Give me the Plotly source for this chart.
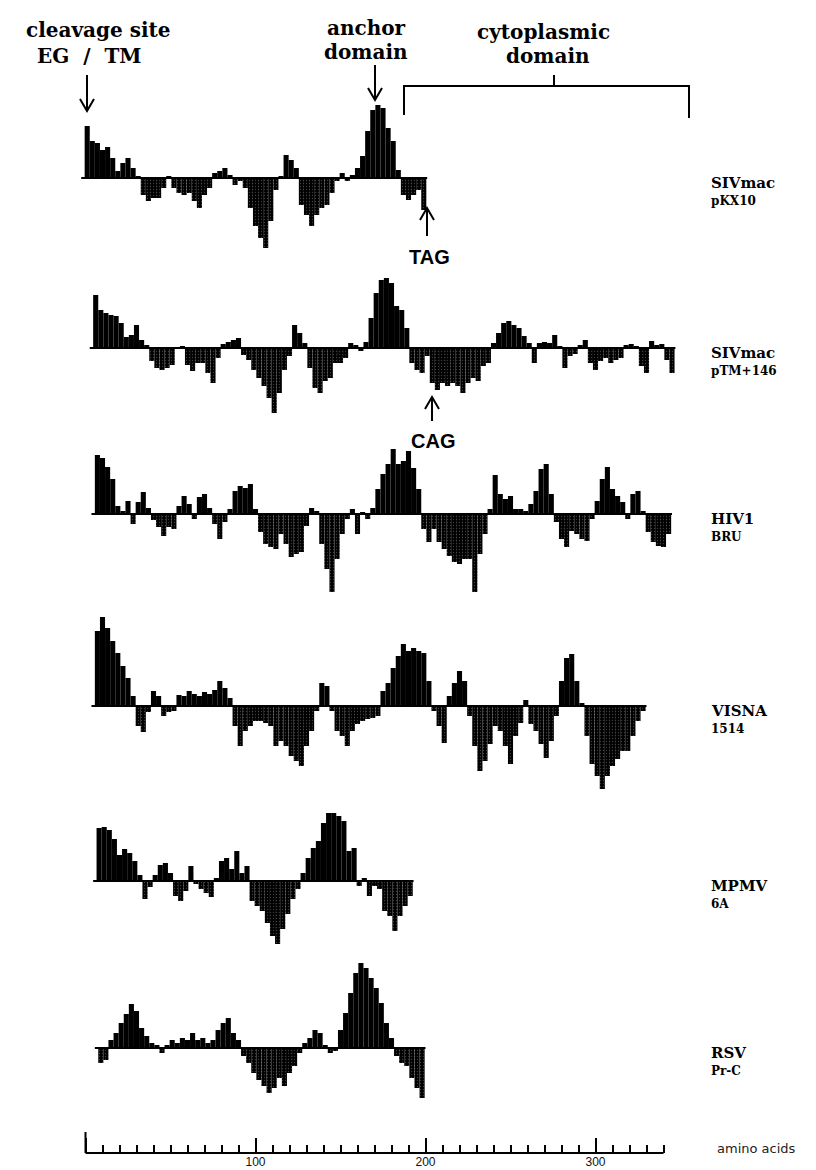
import plotly.graph_objects as go

W, H = 816, 1170
STEP = 3  # amino acids per plotted value

# ---------------- data (hydropathy, arbitrary units) ----------------
names = ["SIVmac", "SIVmac", "HIV1", "VISNA", "MPMV", "RSV"]
subnames = ["pKX10", "pTM+146", "BRU", "1514", "6A", "Pr-C"]
starts = [1, 6, 7, 7, 8, 9]

siv_pkx10 = [5.2, 3.7, 3.5, 2.8, 3.1, 2.0, 0.7, 1.5, 2.0, 1.0, 0.2, -1.7, -2.3, -2.0, -2.0, -1.0, 0.2,
             -1.0, -1.5, -1.7, -1.5, -2.3, -3.0, -1.7, -1.0, 0.5, 0.7, 1.0, 0.3, -0.7, -0.3, -1.0, -3.0,
             -4.8, -6.0, -7.0, -4.3, -1.2, 0.2, 2.3, 1.8, 1.0, -2.7, -3.7, -4.8, -3.7, -3.0, -2.7, -1.5,
             -0.3, 0.5, -0.3, 0.3, 1.0, 2.2, 4.7, 6.8, 7.3, 7.0, 5.0, 3.7, 0.8, -1.7, -2.2, -1.7, -1.2, -3.2]

siv_ptm146 = [5.3, 3.8, 3.5, 3.3, 3.2, 2.5, 1.1, 1.3, 2.3, 0.8, 0.3, -1.3, -2.0, -2.2, -2.0, -1.7, 0.1,
              0.2, -1.7, -2.3, -1.5, -1.5, -2.5, -3.5, -1.0, 0.4, 0.6, 0.8, 1.0, -0.7, -1.2, -2.2, -3.0,
              -3.8, -5.0, -6.5, -4.5, -2.2, -0.8, 2.3, 1.5, 0.5, -2.0, -4.0, -4.5, -3.3, -3.0, -1.5, -1.5,
              -1.0, 0.5, 0.3, -0.3, 0.6, 3.0, 5.5, 6.8, 7.0, 6.5, 4.2, 3.8, 2.0, -1.5, -2.2, -2.5, -0.8,
              -3.5, -4.2, -3.5, -3.8, -3.5, -3.8, -4.5, -3.5, -3.0, -3.3, -1.8, -1.5, 0.5, 1.5, 2.5, 2.7,
              2.3, 2.0, 1.2, 0.5, -1.5, 0.5, 0.6, 0.5, 1.3, 0.2, -2.0, -0.8, -0.6, 0.3, 0.8, -1.5, -2.2,
              -1.3, -1.0, -1.5, -1.2, -1.0, 0.3, 0.4, 0.2, -1.8, -2.5, 0.7, 0.3, 0.4, -1.2, -2.5]

hiv1_bru = [5.9, 5.6, 4.7, 3.5, 0.8, 0.3, 1.3, -1.0, 1.2, 2.2, 0.6, -0.6, -1.3, -2.2, -1.3, -1.5, 0.8,
            1.8, 1.0, -0.5, 1.7, 2.0, 0.6, -1.0, -2.5, -0.8, 0.5, 2.3, 2.8, 2.6, 3.0, 0.5, -1.8, -3.0,
            -3.3, -3.5, -2.0, -3.0, -4.3, -4.0, -3.8, -1.2, 0.6, 0.3, -3.0, -5.5, -7.8, -4.5, -2.0, -0.5,
            0.5, -2.0, 0.2, -0.5, 0.6, 2.5, 4.0, 5.0, 6.5, 5.0, 5.3, 6.3, 4.6, 2.5, -1.5, -2.8, -1.5,
            -2.8, -3.5, -4.2, -4.8, -5.0, -4.5, -4.5, -7.8, -4.0, -2.0, 0.5, 3.9, 2.0, 1.5, 1.8, 0.5,
            0.5, 0.3, 1.0, 2.3, 4.5, 5.0, 2.0, -0.8, -2.5, -3.3, -1.7, -2.0, -2.5, -2.7, -0.5, 1.3, 3.5,
            4.7, 2.5, 1.8, 1.2, -0.5, 2.0, 2.3, 0.3, -1.8, -2.8, -3.2, -3.3, -2.0]

visna_1514 = [7.5, 8.9, 7.8, 6.5, 5.3, 4.0, 2.8, 1.0, -2.0, -2.6, -0.6, 1.5, 1.0, -1.0, -0.6, -0.5, 1.1,
              1.0, 1.5, 1.2, 1.0, 1.4, 1.2, 1.6, 2.5, 1.8, 0.8, -2.0, -4.0, -2.5, -2.0, -1.5, -1.5, -1.7,
              -2.0, -4.0, -3.5, -4.0, -5.0, -5.5, -6.0, -4.0, -2.5, -0.5, 2.3, 2.0, -0.5, -2.5, -3.0, -4.0,
              -2.5, -1.8, -1.5, -1.3, -1.2, -1.0, 1.5, 2.3, 3.8, 5.0, 6.2, 5.5, 5.8, 5.5, 5.3, 2.5, -0.5,
              -2.0, -3.7, 1.0, 2.3, 3.5, 2.5, -1.0, -4.0, -6.5, -5.5, -3.8, -2.0, -2.5, -4.0, -5.8, -3.0,
              -1.7, 0.6, -1.8, -2.5, -3.8, -5.2, -3.5, -1.0, 2.5, 4.8, 5.2, 2.5, 0.3, -3.0, -5.8, -7.0,
              -8.3, -7.0, -6.0, -5.3, -4.5, -4.5, -3.0, -1.5, -0.5]

mpmv_6a = [5.3, 5.4, 5.1, 4.2, 2.6, 3.2, 2.8, 2.0, 0.6, -1.8, -0.6, 0.6, 1.6, 1.8, 0.8, -1.5, -2.0,
           -1.0, 1.5, -0.3, -0.8, -1.2, -1.6, 0.3, 2.0, 2.3, 1.2, 3.0, 0.8, 1.5, -2.0, -2.5, -3.0, -4.2,
           -5.5, -6.3, -4.8, -3.3, -1.8, -0.8, 0.8, 2.3, 3.3, 4.0, 5.8, 6.8, 6.8, 6.5, 6.0, 3.0, 3.3,
           -0.5, 0.3, -1.5, -0.5, -0.8, -3.0, -3.5, -5.0, -3.5, -2.5, -1.5]

rsv_prc = [-1.5, -1.2, 0.8, 1.5, 2.5, 3.4, 4.4, 3.7, 2.0, 1.2, 0.5, 0.3, -0.5, 0.3, 0.8, 0.5, 1.0,
           0.8, 1.5, 0.8, 1.0, 0.5, 0.8, 1.8, 2.5, 3.0, 1.5, 0.8, -0.8, -1.5, -2.5, -3.2, -3.8, -4.5,
           -4.0, -3.0, -3.8, -2.5, -1.8, -0.5, 0.5, 1.0, 1.8, 1.5, 0.3, -0.5, -0.3, 1.8, 3.5, 5.5, 7.5,
           8.5, 8.0, 7.0, 6.0, 4.5, 2.5, 1.0, -0.8, -1.5, -1.8, -3.0, -4.0, -5.0]

series = [siv_pkx10, siv_ptm146, hiv1_bru, visna_1514, mpmv_6a, rsv_prc]

axis_major = [0, 100, 200, 300]
axis_major_text = ["", "100", "200", "300"]
axis_minor = [v for v in range(10, 341, 10) if v % 100 != 0]
axis_end = 340

# ---------------- layout geometry (pixels) ----------------
X0_PX, PX_PER_AA = 77.5, 1.70
BASE_PX = [170, 340, 506, 698, 873, 1040]
UNIT_PX = 10.0
AXIS_Y = 1145
LABEL_X = 701

def px(x):
    return x / W

def py(y):
    return 1 - y / H

SERIF = "DejaVu Serif"
fig = go.Figure()

for k, (vals, st) in enumerate(zip(series, starts)):
    xs = [st + STEP * i for i in range(len(vals))]
    ya = "y" if k == 0 else f"y{k+1}"
    fig.add_trace(go.Bar(
        x=xs, y=vals, width=STEP, xaxis="x", yaxis=ya,
        marker=dict(color="#000000", line=dict(width=0),
                    pattern=dict(shape=["" if v >= 0 else "." for v in vals],
                                 fgcolor="#7a7a7a", size=3, solidity=0.15,
                                 fillmode="overlay")),
        hoverinfo="skip", showlegend=False))
    fig.add_trace(go.Scatter(
        x=[xs[0] - 3.5, xs[-1] + 2], y=[0, 0], mode="lines", xaxis="x", yaxis=ya,
        line=dict(color="black", width=2), hoverinfo="skip", showlegend=False))

layout = dict(
    width=W, height=H, margin=dict(l=0, r=0, t=0, b=0),
    paper_bgcolor="white", plot_bgcolor="white", barmode="overlay",
    showlegend=False,
    xaxis=dict(range=[(0 - X0_PX) / PX_PER_AA, (W - X0_PX) / PX_PER_AA], domain=[0, 1],
               anchor="free", position=py(AXIS_Y), showline=False, showgrid=False,
               zeroline=False, ticks="inside", tickvals=axis_major, ticktext=axis_major_text,
               ticklen=15, tickwidth=2, tickcolor="black", ticklabelstandoff=0,
               tickfont=dict(family="Liberation Sans Narrow, Liberation Sans", size=12, color="#111"),
               minor=dict(tickvals=axis_minor, ticks="inside", ticklen=8, tickwidth=2,
                          tickcolor="black", showgrid=False),
               fixedrange=True),
)
for k, b in enumerate(BASE_PX):
    key = "yaxis" if k == 0 else f"yaxis{k+1}"
    d = dict(domain=[0, 1], range=[(b - H) / UNIT_PX, b / UNIT_PX], visible=False,
             fixedrange=True)
    if k > 0:
        d["overlaying"] = "y"
    layout[key] = d
fig.update_layout(**layout)

shapes = []
# bottom axis line
shapes.append(dict(type="line", xref="x", yref="paper", x0=0, x1=axis_end,
                   y0=py(AXIS_Y), y1=py(AXIS_Y), line=dict(color="black", width=2)))
shapes.append(dict(type="line", xref="x", yref="paper", x0=0, x1=0,
                   y0=py(AXIS_Y), y1=py(AXIS_Y - 21), line=dict(color="black", width=2)))

def arrow(x, y_tail, y_head, head=7, hl=12):
    d = 1 if y_head > y_tail else -1
    path = (f"M {px(x)},{py(y_tail)} L {px(x)},{py(y_head)} "
            f"M {px(x-head)},{py(y_head - d*hl)} L {px(x)},{py(y_head)} L {px(x+head)},{py(y_head - d*hl)}")
    return dict(type="path", xref="paper", yref="paper", path=path,
                line=dict(color="black", width=2))

shapes.append(arrow(79, 67, 103))     # cleavage site
shapes.append(arrow(367, 57, 92))     # anchor domain
shapes.append(arrow(419, 228, 200))   # TAG
shapes.append(arrow(424, 413, 389))   # CAG
# cytoplasmic bracket
bp = (f"M {px(396)},{py(107)} L {px(396)},{py(78)} L {px(681)},{py(78)} L {px(681)},{py(110)} "
      f"M {px(546)},{py(78)} L {px(546)},{py(67)}")
shapes.append(dict(type="path", xref="paper", yref="paper", path=bp,
                   line=dict(color="black", width=2)))
fig.update_layout(shapes=shapes)

ann = []
def txt(x, y, s, size, family=SERIF, bold=True, xanchor="center", color="black"):
    ann.append(dict(x=px(x), y=py(y), xref="paper", yref="paper", text=(f"<b>{s}</b>" if bold else s),
                    showarrow=False, xanchor=xanchor, yanchor="middle",
                    font=dict(family=family, size=size, color=color)))

txt(90, 22, "cleavage site", 20)
txt(81, 48, "EG&nbsp;&nbsp;/&nbsp;&nbsp;TM", 20)
txt(358, 20, "anchor", 20)
txt(358, 44, "domain", 20)
txt(535, 24, "cytoplasmic", 20)
txt(540, 48, "domain", 20)
txt(421, 249, "TAG", 20, family="Liberation Sans")
txt(425, 433, "CAG", 20, family="Liberation Sans")
for nm, sb, b in zip(names, subnames, BASE_PX):
    txt(LABEL_X, b + 5, nm, 15, xanchor="left")
    txt(LABEL_X, b + 23, sb, 12, xanchor="left")
txt(707, 1140, "amino acids", 13, family="DejaVu Sans", bold=False, xanchor="left", color="#222")
fig.update_layout(annotations=ann)

fig.write_html("out.html")
